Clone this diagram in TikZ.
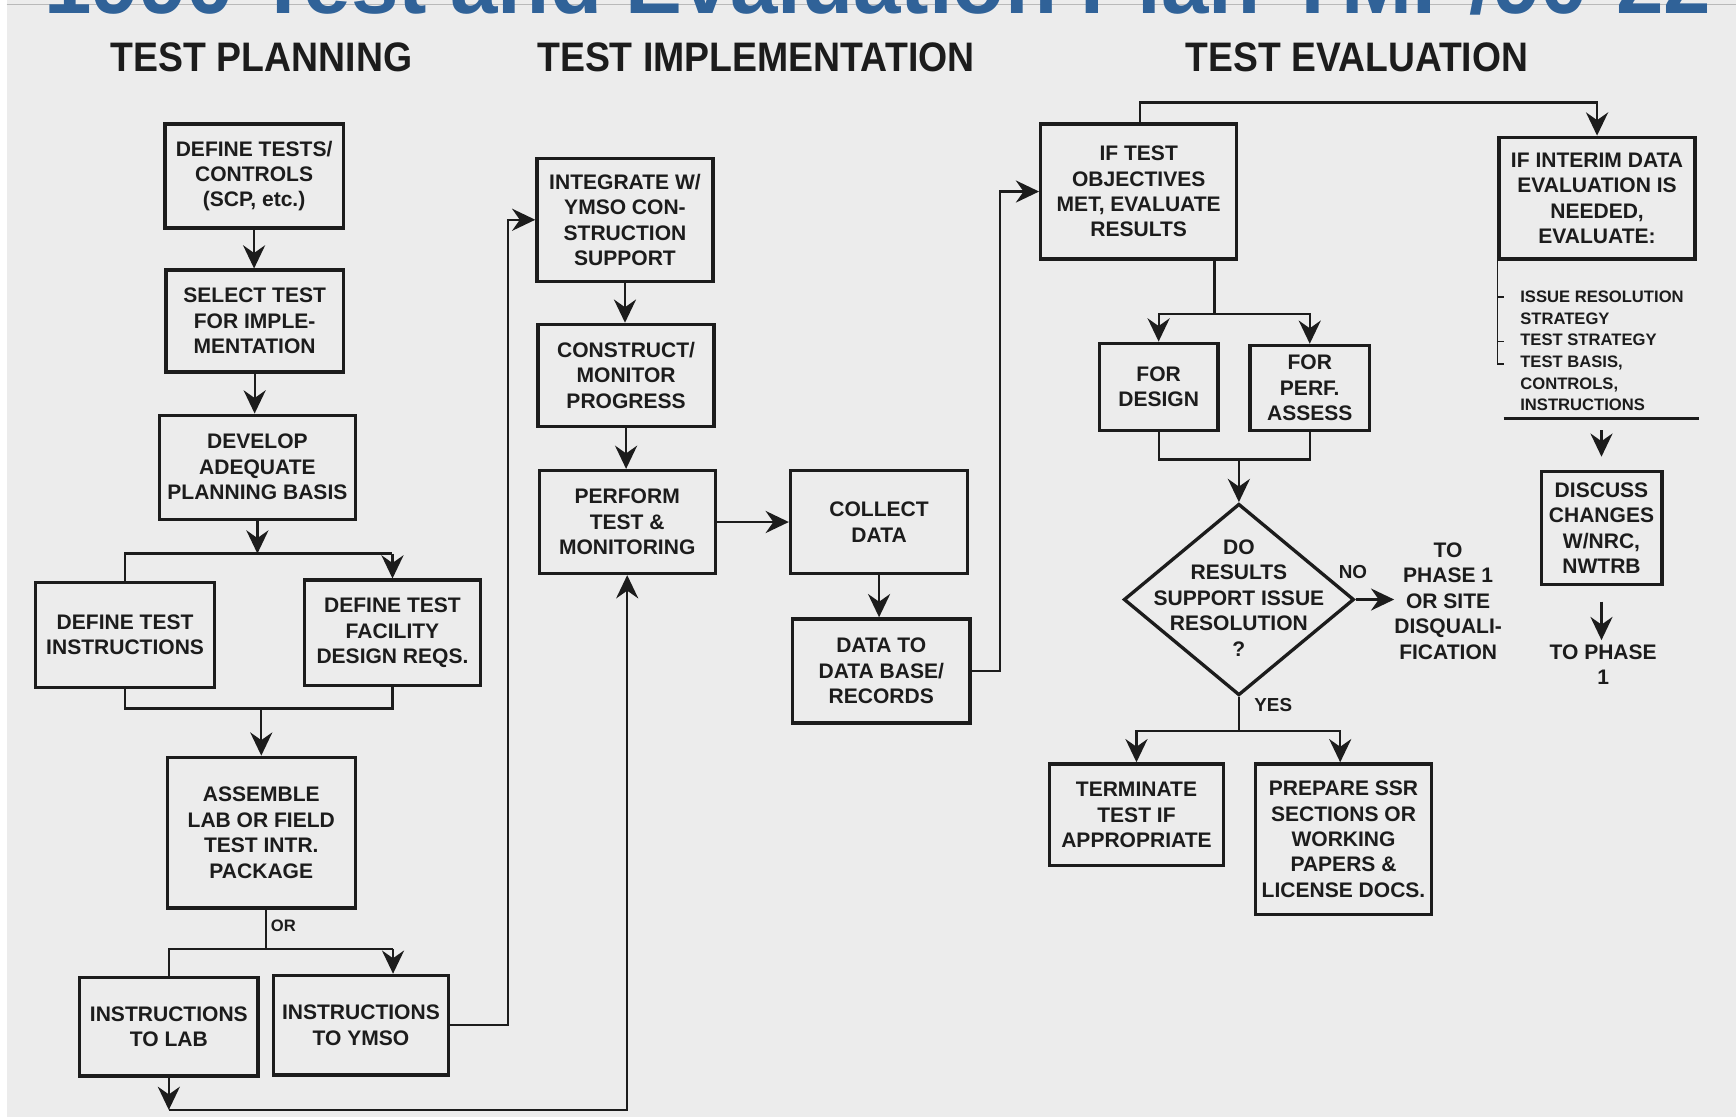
\documentclass[tikz,border=0pt]{standalone}
\usepackage{fontspec}
\setmainfont{Liberation Sans}
\usetikzlibrary{arrows.meta,shapes.geometric}
\definecolor{ink}{RGB}{28,28,28}
\definecolor{paper}{RGB}{236,236,236}
\definecolor{titleblue}{RGB}{48,98,152}
\newcommand{\bxf}{\fontsize{19}{23}\selectfont\bfseries}
\newcommand{\smf}{\fontsize{15}{19.6}\selectfont\bfseries}
\begin{document}
\begin{tikzpicture}[x=1pt,y=-1pt,
  box/.style={draw=ink, line width=3pt, align=center, inner sep=0pt, font=\bxf, text=ink},
  conn/.style={draw=ink, line width=2pt},
  arr/.style={conn, -{Stealth[length=21pt,width=20pt,inset=7pt]}},
  lbl/.style={align=center, font=\bxf, text=ink, inner sep=0pt},
  hdr/.style={anchor=base west, inner sep=0pt, text=ink},
  brk/.style={draw=ink, line width=1.5pt}
]
\useasboundingbox (0,0) rectangle (1568,1009);
\fill[white] (0,0) rectangle (1568,1009);
\fill[paper] (6,0) rectangle (1568,1009);
\draw[gray!55, line width=1pt] (6,4) -- (1568,4);

% title (cut off at top, as in the reference)
\node[anchor=base west, inner sep=0pt, text=titleblue] (title) at (40,12)
  {\resizebox{1505pt}{!}{\bfseries 1990 Test and Evaluation Plan YMP/90-22}};

% headers
\node[hdr] (h1) at (100,65) {\resizebox{272pt}{26pt}{\bfseries TEST PLANNING}};
\node[hdr] (h2) at (485,65) {\resizebox{395pt}{26pt}{\bfseries TEST IMPLEMENTATION}};
\node[hdr] (h3) at (1071,65) {\resizebox{309pt}{26pt}{\bfseries TEST EVALUATION}};

% column 1
\node[box, minimum width=161, minimum height=94] (b1) at (229.5,159) {DEFINE TESTS/\\CONTROLS\\(SCP, etc.)};
\node[box, minimum width=160, minimum height=92] (b2) at (230,290) {SELECT TEST\\FOR IMPLE-\\MENTATION};
\node[box, minimum width=177, minimum height=94] (b3) at (232.5,422) {DEVELOP\\ADEQUATE\\PLANNING BASIS};
\node[box, minimum width=162, minimum height=95] (b4) at (113,573.5) {DEFINE TEST\\INSTRUCTIONS};
\node[box, minimum width=159, minimum height=95] (b5) at (354.5,571.5) {DEFINE TEST\\FACILITY\\DESIGN REQS.};
\node[box, minimum width=170, minimum height=136] (b6) at (236,752) {ASSEMBLE\\LAB OR FIELD\\TEST INTR.\\PACKAGE};
\node[box, minimum width=161, minimum height=89] (b7) at (152.5,927.5) {INSTRUCTIONS\\TO LAB};
\node[box, minimum width=158, minimum height=90] (b8) at (326,926) {INSTRUCTIONS\\TO YMSO};

% column 2
\node[box, minimum width=159, minimum height=111] (b9) at (564.5,198.5) {INTEGRATE W/\\YMSO CON-\\STRUCTION\\SUPPORT};
\node[box, minimum width=159, minimum height=92] (b10) at (565.5,339) {CONSTRUCT/\\MONITOR\\PROGRESS};
\node[box, minimum width=159, minimum height=93] (b11) at (566.5,471.5) {PERFORM\\TEST \&\\MONITORING};
\node[box, minimum width=160, minimum height=93] (b12) at (794,471.5) {COLLECT\\DATA};
\node[box, minimum width=160, minimum height=94] (b13) at (796,606) {DATA TO\\DATA BASE/\\RECORDS};

% column 3
\node[box, minimum width=177, minimum height=122] (b14) at (1028.5,173) {IF TEST\\OBJECTIVES\\MET, EVALUATE\\RESULTS};
\node[box, minimum width=177, minimum height=110] (b15) at (1442.5,179) {IF INTERIM DATA\\EVALUATION IS\\NEEDED,\\EVALUATE:};
\node[box, minimum width=107, minimum height=79] (b17) at (1046.5,349.5) {FOR\\DESIGN};
\node[box, minimum width=108, minimum height=77] (b18) at (1183,350.5) {FOR\\PERF.\\ASSESS};
\node[draw=ink, line width=3pt, diamond, minimum width=208, minimum height=173, inner sep=0pt] (d) at (1119,541.5) {};
\node[lbl] (dtext) at (1119,540) {DO\\RESULTS\\SUPPORT ISSUE\\RESOLUTION\\?};
\node[box, minimum width=157, minimum height=92] (b19) at (1026.5,736) {TERMINATE\\TEST IF\\APPROPRIATE};
\node[box, minimum width=159, minimum height=136] (b20) at (1213.5,758) {PREPARE SSR\\SECTIONS OR\\WORKING\\PAPERS \&\\LICENSE DOCS.};
\node[box, minimum width=109, minimum height=102] (b16) at (1446.5,477) {DISCUSS\\CHANGES\\W/NRC,\\NWTRB};

% labels
\node[lbl, font=\smf] (orl) at (256,836) {OR};
\node[lbl, font=\fontsize{17}{20}\selectfont\bfseries] (nol) at (1222,517) {NO};
\node[lbl, font=\fontsize{17}{20}\selectfont\bfseries] (yesl) at (1150,637) {YES};
\node[lbl] (tp) at (1308,543) {TO\\PHASE 1\\OR SITE\\DISQUALI-\\FICATION};
\node[lbl, inner sep=4pt] (tp2) at (1448,600.5) {TO PHASE\\1};
\node[lbl, font=\smf, align=left, anchor=north west] (list) at (1373,262.5)
  {ISSUE RESOLUTION\\STRATEGY\\TEST STRATEGY\\TEST BASIS,\\CONTROLS,\\INSTRUCTIONS};

% connectors column 1
\draw[arr] (b1.south) -- (b1.south |- b2.north);
\draw[arr] (b2.south) -- (b2.south |- b3.north);
\coordinate (s1) at (233,500);
\draw[arr] (b3.south) -- (b3.south |- s1);
\draw[conn] (b4.north) |- (b5.north |- s1);
\draw[arr] (b5.north |- s1) -- (b5.north);
\coordinate (m1) at (236,640);
\draw[conn] (b4.south) |- (b5.south |- m1) -- (b5.south);
\draw[arr] (b6.north |- m1) -- (b6.north);
\coordinate (s2) at (240,857);
\draw[conn] ([xshift=4pt]b6.south) -- (s2);
\coordinate (s2r) at ([xshift=29pt]b8.north |- s2);
\draw[conn] (b7.north) |- (s2r);
\draw[arr] (s2r) -- (s2r |- b8.north);
\draw[arr] (b8.east) -- ++(52,0) |- (b9.west);
\coordinate (c1) at ([yshift=-29pt]b7.south);
\draw[arr] (b7.south) -- (c1);
\draw[arr] (c1) -| (b11.south);

% connectors column 2
\draw[arr] (b9.south) -- (b9.south |- b10.north);
\draw[arr] (b10.south) -- (b10.south |- b11.north);
\draw[arr] (b11.east) -- (b12.west);
\draw[arr] (b12.south) -- (b12.south |- b13.north);
\draw[arr] (b13.east) -- ++(26,0) |- (b14.west);

% connectors column 3
\draw[arr] ([xshift=1.5pt]b14.north) -- ++(0,-18) -| (b15.north);
\coordinate (s3) at ([xshift=68.5pt,yshift=-48pt]b14.south);
\draw[conn] (s3 |- b14.south) -- (s3);
\draw[arr] (s3) -| (b17.north);
\draw[arr] (s3) -| (b18.north);
\coordinate (m2) at (1117,415);
\draw[conn] (b17.south) |- (b18.south |- m2) -- (b18.south);
\draw[arr] (d.north |- m2) -- (d.north);
\draw[arr] (d.east) -- (d.east -| tp.west);
\coordinate (s4) at (1119,660);
\draw[conn] (d.south) -- (s4);
\draw[arr] (s4) -| (b19.north);
\draw[arr] (s4) -| ([xshift=-3pt]b20.north);

% bracket and list
\draw[brk] (b15.south west) -- ++(0,93) -- ++(6,0);
\draw[brk] ([yshift=-33pt]b15.south west) -- ++(6,0);
\draw[brk] ([yshift=-73pt]b15.south west) -- ++(6,0);
\draw[conn] (1358,378) -- (1535,378);
\coordinate (u1) at ([yshift=36pt]b16.north);
\coordinate (u2) at ([yshift=12pt]b16.north);
\draw[arr] (u1) -- (u2);
\coordinate (v1) at ([yshift=-14pt]b16.south);
\draw[arr] (v1) -- (v1 |- tp2.north);
\end{tikzpicture}
\end{document}
